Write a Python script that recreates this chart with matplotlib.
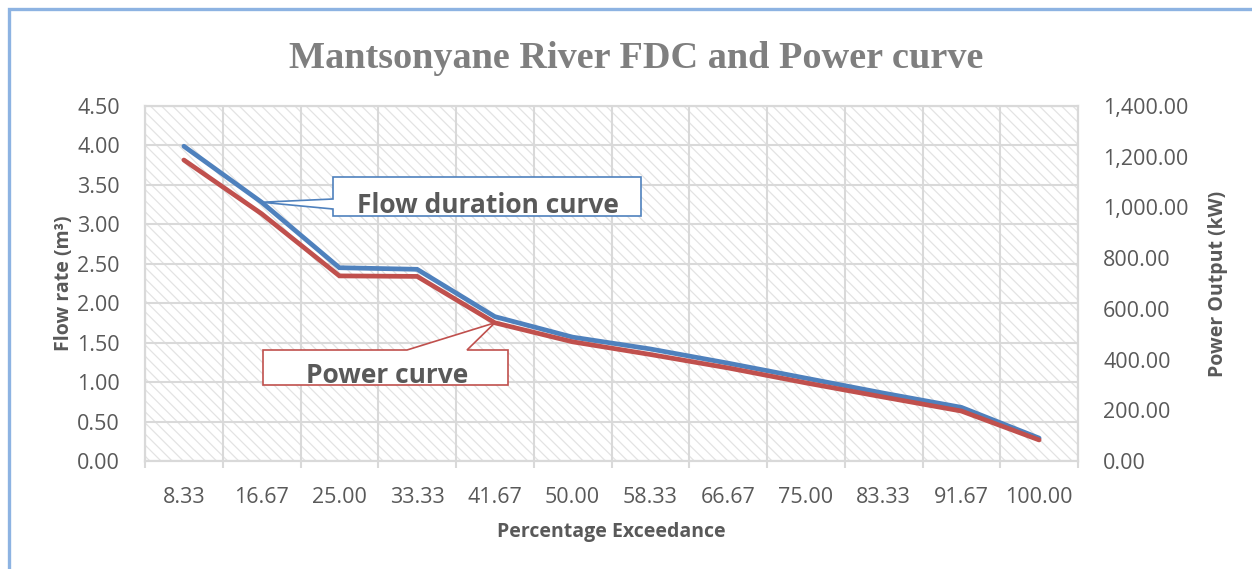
import numpy as np
import matplotlib.pyplot as plt
from matplotlib.patches import Rectangle, Polygon
from matplotlib.ticker import MultipleLocator, FuncFormatter

# Flow duration data and matching hydropower output
exceedance = ['8.33', '16.67', '25.00', '33.33', '41.67', '50.00',
              '58.33', '66.67', '75.00', '83.33', '91.67', '100.00']
flow_rate = [3.99, 3.28, 2.45, 2.43, 1.83, 1.57, 1.42, 1.24, 1.05, 0.86, 0.68, 0.29]
power_kw = [1187, 975, 730, 728, 545, 470, 420, 367, 308, 252, 197, 83]

BLUE = '#4f81bd'
RED = '#c0504d'
GRID = '#d9d9d9'
TXT = '#595959'

plt.rcParams['font.family'] = ['Open Sans', 'DejaVu Sans']
plt.rcParams['hatch.linewidth'] = 0.9

W, H = 1252, 569
fig = plt.figure(figsize=(W / 100, H / 100), dpi=100)

# plot area in pixels: left 145, right 1078, top 106, bottom 461
L, R, T, B = 145, 1078, 106, 461
ax1 = fig.add_axes([L / W, 1 - B / H, (R - L) / W, (B - T) / H])
ax2 = ax1.twinx()

x = np.arange(len(exceedance))

# hatched background
ax1.add_patch(Rectangle((0, 0), 1, 1, transform=ax1.transAxes, facecolor='white',
                        edgecolor='#e3e3e3', hatch='\\\\\\', lw=0, zorder=0.1))

ax1.plot(x, flow_rate, color=BLUE, lw=3.4, solid_capstyle='round', solid_joinstyle='miter', zorder=3)
ax2.plot(x, power_kw, color=RED, lw=3.4, solid_capstyle='round', solid_joinstyle='miter', zorder=3)

ax1.set_xlim(-0.5, len(x) - 0.5)
ax1.set_ylim(0, 4.5)
ax2.set_ylim(0, 1400)

ax1.set_xticks(x)
ax1.set_xticklabels(exceedance)
ax1.set_xticks(np.arange(len(x) + 1) - 0.5, minor=True)
ax1.yaxis.set_major_locator(MultipleLocator(0.5))
ax1.yaxis.set_major_formatter(FuncFormatter(lambda v, p: f'{v:.2f}'))
ax2.yaxis.set_major_locator(MultipleLocator(200))
ax2.yaxis.set_major_formatter(FuncFormatter(lambda v, p: f'{v:,.2f}'))

ax1.set_axisbelow(True)
ax1.grid(which='minor', axis='x', color=GRID, lw=1.5)
ax1.grid(which='major', axis='y', color=GRID, lw=1.5)

ax1.tick_params(axis='x', which='major', length=0, pad=19, labelsize=15.5, labelcolor=TXT)
ax1.tick_params(axis='x', which='minor', length=5, width=1.5, color=GRID, direction='out')
ax1.tick_params(axis='y', length=0, pad=18, labelsize=15.5, labelcolor=TXT)
ax2.tick_params(axis='y', length=0, pad=18, labelsize=15.5, labelcolor=TXT)

for a in (ax1, ax2):
    for s in a.spines.values():
        s.set_color(GRID)
        s.set_linewidth(1.5)

ax1.set_ylabel('Flow rate (m³)', fontsize=14, fontweight='bold', color=TXT, labelpad=2)
ax2.set_ylabel('Power Output (kW)', fontsize=14, fontweight='bold', color=TXT, labelpad=14)
ax1.set_xlabel('Percentage Exceedance', fontsize=14, fontweight='bold', color=TXT, labelpad=10)

fig.text(636 / W, 1 - 58 / H, 'Mantsonyane River FDC and Power curve',
         ha='center', va='center', fontsize=27.5, fontweight='bold', color='#7f7f7f',
         family=['Liberation Serif', 'DejaVu Serif'])


def px_to_axes(px, py):
    return ((px - L) / (R - L), (B - py) / (B - T))


def data_to_axes(ax, xv, yv):
    return tuple(ax1.transAxes.inverted().transform(ax.transData.transform((xv, yv))))


# callout for the flow duration curve
tip = data_to_axes(ax1, 1, flow_rate[1])
flow_shape = [px_to_axes(333, 177), px_to_axes(641, 177), px_to_axes(641, 216),
              px_to_axes(333, 216), px_to_axes(333, 209), tip, px_to_axes(333, 199)]
ax1.add_patch(Polygon(flow_shape, closed=True, transform=ax1.transAxes, facecolor='white',
                      edgecolor=BLUE, lw=1.2, zorder=5, clip_on=False))
ax1.text(*px_to_axes(488, 213), 'Flow duration curve', transform=ax1.transAxes,
         ha='center', va='baseline', fontsize=19, fontweight='bold', color=TXT, zorder=6)

# callout for the power curve
tip = data_to_axes(ax2, 4, power_kw[4])
power_shape = [px_to_axes(263, 350), px_to_axes(407, 350), tip, px_to_axes(467, 350),
               px_to_axes(508, 350), px_to_axes(508, 385), px_to_axes(263, 385)]
ax1.add_patch(Polygon(power_shape, closed=True, transform=ax1.transAxes, facecolor='white',
                      edgecolor=RED, lw=1.2, zorder=5, clip_on=False))
ax1.text(*px_to_axes(387, 383), 'Power curve', transform=ax1.transAxes,
         ha='center', va='baseline', fontsize=19, fontweight='bold', color=TXT, zorder=6)

# chart border
fig.add_artist(Rectangle((9 / W, -0.5), 2, 0.5 + 1 - 9 / H, transform=fig.transFigure,
                         fill=False, edgecolor='#8db3e2', lw=2.4))

fig.savefig('out.png', dpi=100)
